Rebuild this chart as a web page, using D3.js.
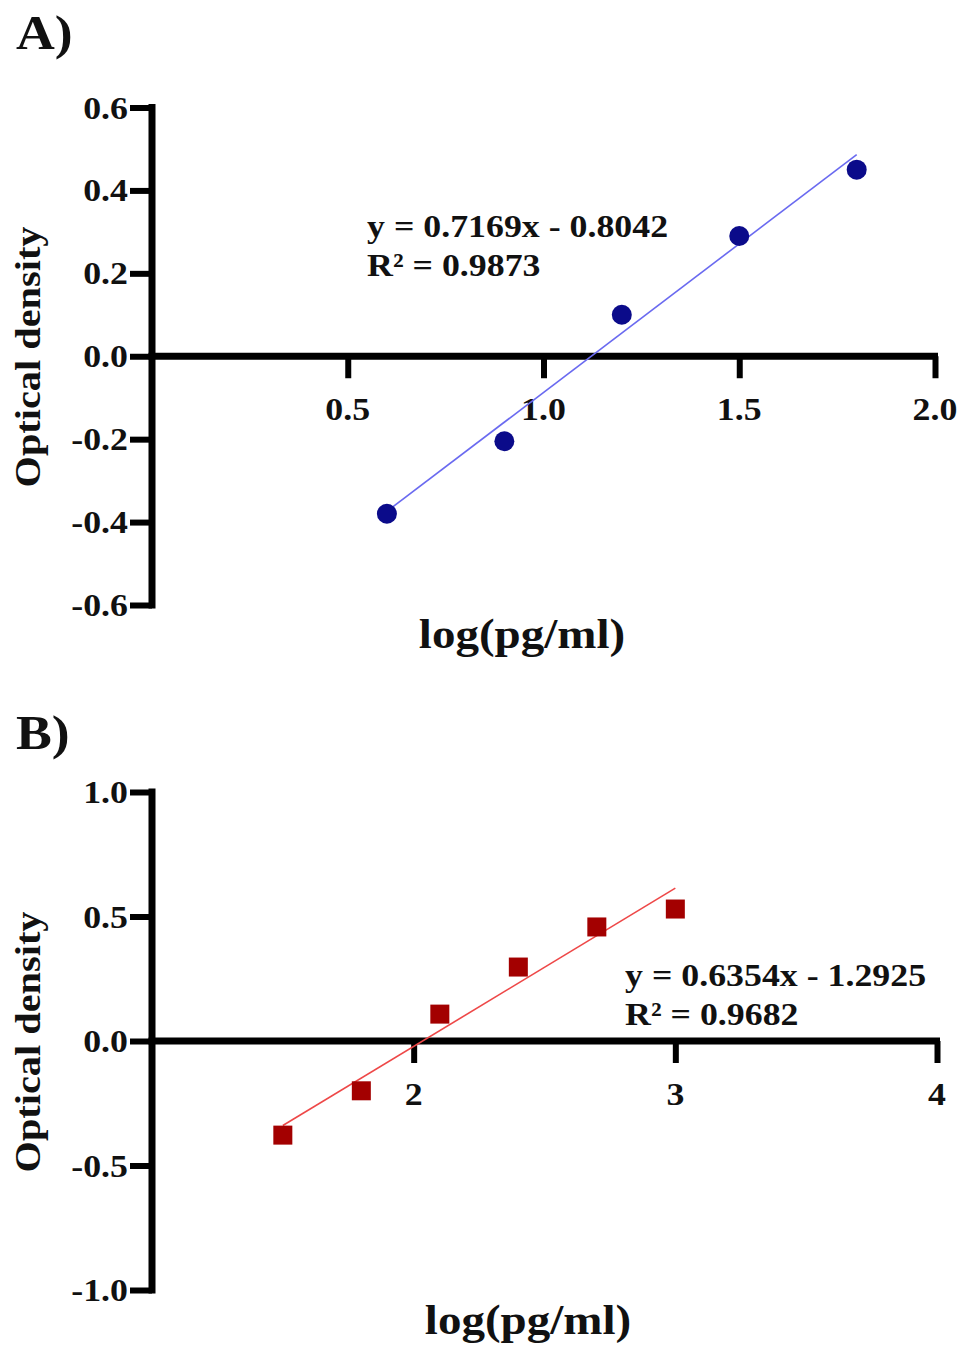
<!DOCTYPE html>
<html>
<head>
<meta charset="utf-8">
<script src="https://cdn.jsdelivr.net/npm/d3@7"></script>
<style>
  html, body { margin: 0; padding: 0; background: #fff; }
  svg { display: block; }
  text { font-family: "Liberation Serif", "Times New Roman", serif; font-weight: bold; fill: #111; }
</style>
</head>
<body>
<svg id="chart" width="963" height="1346"></svg>
<script>
// ---- Data ----
const xA = [0.6, 0.9, 1.2, 1.5, 1.8];
const yA = [-0.38, -0.205, 0.10, 0.29, 0.45];
const slopeA = 0.7169, interceptA = -0.8042, r2A = "0.9873";
const xTicksA = [0.5, 1.0, 1.5, 2.0];
const yTicksA = [-0.6, -0.4, -0.2, 0.0, 0.2, 0.4, 0.6];

const xB = [1.5, 1.8, 2.1, 2.4, 2.7, 3.0];
const yB = [-0.378, -0.20, 0.108, 0.297, 0.458, 0.53];
const slopeB = 0.6354, interceptB = -1.2925, r2B = "0.9682";
const xTicksB = [2, 3, 4];
const yTicksB = [-1.0, -0.5, 0.0, 0.5, 1.0];

const svg = d3.select("#chart");
const SX = 1.12; // horizontal text stretch of the reference

function txt(g, x, y, s, size, anchor, rot) {
  const t = g.append("text")
    .attr("transform", `translate(${x},${y})` + (rot ? ` rotate(${rot})` : "") + ` scale(${SX},1)`)
    .attr("font-size", size)
    .attr("text-anchor", anchor || "start")
    .text(s);
  return t;
}

function panel(cfg) {
  const g = svg.append("g");
  const x = d3.scaleLinear().domain(cfg.xDomain).range([152, cfg.xRight]);
  const y = d3.scaleLinear().domain(cfg.yDomain).range([cfg.yBottom, cfg.yTop]);
  const y0 = y(0);

  // panel label
  txt(g, 16, cfg.labelY, cfg.label, 48, "start");

  // y axis
  const yAxis = d3.axisLeft(y).tickValues(cfg.yTicks).tickSize(22).tickSizeOuter(0)
    .tickFormat(d3.format(".1f"));
  const ya = g.append("g").attr("transform", "translate(152,0)").call(yAxis);
  ya.select(".domain").attr("stroke", "#000").attr("stroke-width", 7)
    .attr("d", `M0,${y(cfg.yDomain[1]) - 3.5}V${y(cfg.yDomain[0]) + 3.5}`);
  ya.selectAll(".tick line").attr("stroke", "#000").attr("stroke-width", 6);
  ya.selectAll(".tick text").remove();
  cfg.yTicks.forEach(v => {
    txt(g, 128, y(v) + 11, d3.format(".1f")(v).replace("−", "-"), 32, "end");
  });

  // x axis at y=0
  const xAxis = d3.axisBottom(x).tickValues(cfg.xTicks).tickSize(22).tickSizeOuter(0);
  const xa = g.append("g").attr("transform", `translate(0,${y0})`).call(xAxis);
  xa.select(".domain").attr("stroke", "#000").attr("stroke-width", 7)
    .attr("d", `M148.5,0H${cfg.xRight + 3}`);
  xa.selectAll(".tick line").attr("stroke", "#000").attr("stroke-width", 6);
  xa.selectAll(".tick text").remove();
  cfg.xTicks.forEach(v => {
    txt(g, x(v), y0 + 64, cfg.xFmt(v), 32, "middle");
  });

  // axis titles
  txt(g, cfg.titleX, cfg.xTitleY, "log(pg/ml)", 42, "middle");
  txt(g, 40, cfg.yTitleC, "Optical density", 36, "middle", -90);

  // trend line
  const xs = d3.extent(cfg.xs);
  g.append("line")
    .attr("x1", x(xs[0])).attr("y1", y(cfg.slope * xs[0] + cfg.intercept))
    .attr("x2", x(xs[1])).attr("y2", y(cfg.slope * xs[1] + cfg.intercept))
    .attr("stroke", cfg.lineColor).attr("stroke-width", 1.6);

  // points
  const pts = cfg.xs.map((v, i) => [v, cfg.ys[i]]);
  if (cfg.shape === "circle") {
    g.selectAll("circle.pt").data(pts).join("circle")
      .attr("cx", d => x(d[0])).attr("cy", d => y(d[1])).attr("r", 10)
      .attr("fill", cfg.pointColor);
  } else {
    const s = 19;
    g.selectAll("rect.pt").data(pts).join("rect")
      .attr("x", d => x(d[0]) - s / 2).attr("y", d => y(d[1]) - s / 2)
      .attr("width", s).attr("height", s).attr("fill", cfg.pointColor);
  }

  // equation
  const sign = cfg.intercept < 0 ? "-" : "+";
  txt(g, cfg.eqX, cfg.eqY, `y = ${cfg.slope.toFixed(4)}x ${sign} ${Math.abs(cfg.intercept).toFixed(4)}`, 32, "start");
  txt(g, cfg.eqX, cfg.eqY + 39, `R² = ${cfg.r2}`, 32, "start");
}

panel({
  label: "A)", labelY: 49,
  xDomain: [0, 2], xRight: 935, yDomain: [-0.6, 0.6], yTop: 107.5, yBottom: 605,
  xTicks: xTicksA, yTicks: yTicksA, xFmt: d3.format(".1f"),
  titleX: 522, xTitleY: 648, yTitleC: 357,
  xs: xA, ys: yA, slope: slopeA, intercept: interceptA, r2: r2A,
  shape: "circle", pointColor: "#0b0b8a", lineColor: "#6a6af0",
  eqX: 367, eqY: 237
});

panel({
  label: "B)", labelY: 749,
  xDomain: [1, 4], xRight: 937, yDomain: [-1, 1], yTop: 792, yBottom: 1290,
  xTicks: xTicksB, yTicks: yTicksB, xFmt: d3.format("d"),
  titleX: 528, xTitleY: 1334, yTitleC: 1042,
  xs: xB, ys: yB, slope: slopeB, intercept: interceptB, r2: r2B,
  shape: "square", pointColor: "#a30000", lineColor: "#ee4848",
  eqX: 625, eqY: 986
});
</script>
</body>
</html>
